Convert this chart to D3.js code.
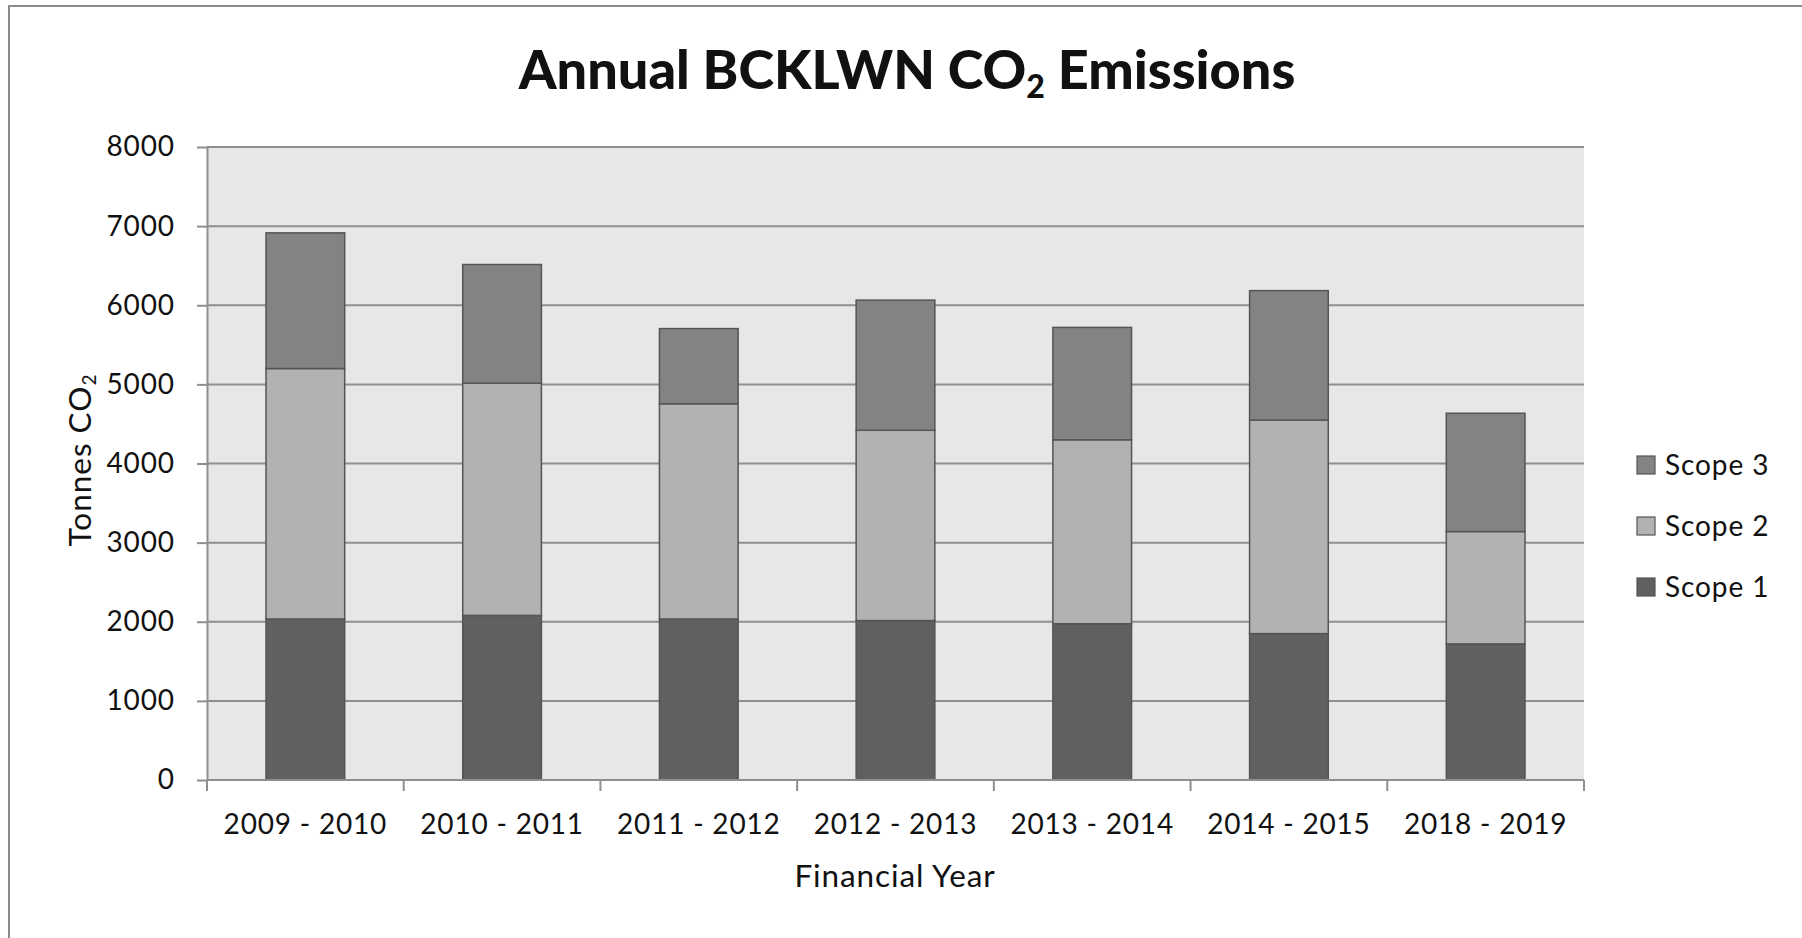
<!DOCTYPE html>
<html>
<head>
<meta charset="utf-8">
<script src="https://cdn.jsdelivr.net/npm/d3@7"></script>
<style>
  html, body { margin: 0; padding: 0; background: #ffffff; }
  svg { display: block; }
  text { font-family: Lato, "Open Sans", sans-serif; fill: #111; }
</style>
</head>
<body>
<svg id="chart" width="1802" height="938"></svg>
<script>
// Financial years and emissions per scope (tonnes CO2)
const categories = ["2009 - 2010", "2010 - 2011", "2011 - 2012", "2012 - 2013", "2013 - 2014", "2014 - 2015", "2018 - 2019"];
const scope1 = [2035, 2080, 2035, 2015, 1975, 1850, 1720];
const scope2 = [3165, 2935, 2720, 2405, 2325, 2700, 1420];
const scope3 = [1715, 1500, 950, 1645, 1420, 1635, 1495];
const seriesNames = ["Scope 1", "Scope 2", "Scope 3"];
const seriesColors = ["#606060", "#b2b2b2", "#838383"];
const yTicks = [0, 1000, 2000, 3000, 4000, 5000, 6000, 7000, 8000];

const svg = d3.select("#chart");

// frame around the chart
svg.append("rect")
  .attr("x", 9).attr("y", 6)
  .attr("width", 1850).attr("height", 1000)
  .attr("fill", "none").attr("stroke", "#8a8a8a").attr("stroke-width", 2);

const plot = { left: 207, right: 1584, top: 147, bottom: 780 };

const x = d3.scaleBand()
  .domain(categories)
  .range([plot.left, plot.right])
  .paddingInner(0.6)
  .paddingOuter(0.3);

const y = d3.scaleLinear()
  .domain([0, 8000])
  .range([plot.bottom, plot.top]);

// plot background
svg.append("rect")
  .attr("x", plot.left).attr("y", plot.top)
  .attr("width", plot.right - plot.left).attr("height", plot.bottom - plot.top)
  .attr("fill", "#e7e7e7");

// horizontal gridlines
svg.append("g")
  .selectAll("line")
  .data(yTicks.filter(d => d > 0))
  .join("line")
  .attr("x1", plot.left).attr("x2", plot.right)
  .attr("y1", d => y(d)).attr("y2", d => y(d))
  .attr("stroke", "#8f8f8f").attr("stroke-width", 2);

// stacked bars
const rows = categories.map((c, i) => ({ cat: c, "Scope 1": scope1[i], "Scope 2": scope2[i], "Scope 3": scope3[i] }));
const stacked = d3.stack().keys(seriesNames)(rows);

svg.append("g")
  .selectAll("g")
  .data(stacked)
  .join("g")
  .attr("fill", (d, i) => seriesColors[i])
  .selectAll("rect")
  .data(d => d)
  .join("rect")
  .attr("x", d => x(d.data.cat))
  .attr("width", x.bandwidth())
  .attr("y", d => y(d[1]))
  .attr("height", d => y(d[0]) - y(d[1]))
  .attr("stroke", "#555555")
  .attr("stroke-width", 1.5);

// y axis
const yAxis = svg.append("g")
  .attr("transform", `translate(${plot.left},0)`)
  .call(d3.axisLeft(y).tickValues(yTicks).tickFormat(d3.format("d")).tickSizeInner(10).tickSizeOuter(0).tickPadding(22));
yAxis.select(".domain").attr("stroke", "#8f8f8f").attr("stroke-width", 2);
yAxis.selectAll(".tick line").attr("stroke", "#8f8f8f").attr("stroke-width", 2);
yAxis.selectAll(".tick text")
  .style("font-family", "Lato, sans-serif").style("font-size", "28px")
  .style("letter-spacing", "0.9px").attr("fill", "#111");

// x axis line with ticks at category boundaries
const step = x.step();
const boundaries = categories.map(c => x(c) - step * x.paddingOuter()).concat([plot.right]);
const xg = svg.append("g");
xg.append("line")
  .attr("x1", plot.left).attr("x2", plot.right)
  .attr("y1", plot.bottom).attr("y2", plot.bottom)
  .attr("stroke", "#8f8f8f").attr("stroke-width", 2);
xg.selectAll("line.tk")
  .data(boundaries)
  .join("line")
  .attr("class", "tk")
  .attr("x1", d => d).attr("x2", d => d)
  .attr("y1", plot.bottom).attr("y2", plot.bottom + 11)
  .attr("stroke", "#8f8f8f").attr("stroke-width", 2);
xg.selectAll("text")
  .data(categories)
  .join("text")
  .attr("x", d => x(d) + x.bandwidth() / 2)
  .attr("y", plot.bottom + 54)
  .attr("text-anchor", "middle")
  .style("font-size", "28px")
  .style("letter-spacing", "0.8px")
  .text(d => d);

// title
const title = svg.append("text")
  .attr("x", 907).attr("y", 89)
  .attr("text-anchor", "middle")
  .style("font-size", "54px").style("font-weight", "900").attr("fill", "#000");
title.append("tspan").text("Annual BCKLWN CO");
title.append("tspan").text("2").style("font-size", "32px").attr("dy", 9);
title.append("tspan").text(" Emissions").attr("dy", -9);

// y axis title
const yTitle = svg.append("text")
  .attr("transform", "translate(91,460) rotate(-90)")
  .attr("text-anchor", "middle")
  .style("font-size", "31.5px").style("letter-spacing", "1px");
yTitle.append("tspan").text("Tonnes CO");
yTitle.append("tspan").text("2").style("font-size", "19px").attr("dy", 5);

// x axis title
svg.append("text")
  .attr("x", 895).attr("y", 887)
  .attr("text-anchor", "middle")
  .style("font-size", "31.5px").style("letter-spacing", "0.9px")
  .text("Financial Year");

// legend, top to bottom: Scope 3, Scope 2, Scope 1
const legendItems = seriesNames.map((n, i) => ({ name: n, color: seriesColors[i] })).reverse();
const legend = svg.append("g")
  .selectAll("g")
  .data(legendItems)
  .join("g")
  .attr("transform", (d, i) => `translate(1637,${456 + i * 61})`);
legend.append("rect")
  .attr("width", 18).attr("height", 18)
  .attr("fill", d => d.color)
  .attr("stroke", "#555555").attr("stroke-width", 1.2);
legend.append("text")
  .attr("x", 28).attr("y", 19)
  .style("font-size", "28px").style("letter-spacing", "0.9px")
  .text(d => d.name);
</script>
</body>
</html>
